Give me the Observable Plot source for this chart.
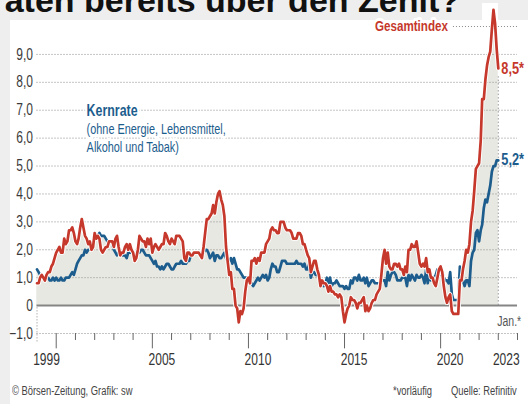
<!DOCTYPE html>
<html><head><meta charset="utf-8">
<script src="https://cdn.jsdelivr.net/npm/d3@7"></script>
<script src="https://cdn.jsdelivr.net/npm/@observablehq/plot@0.6"></script>
<style>
body{margin:0;width:528px;height:404px;background:#eeeeee;overflow:hidden;position:relative;font-family:"Liberation Sans",sans-serif;}
#panel{position:absolute;left:10px;top:20px;width:518px;height:384px;background:#fff;}
#title{position:absolute;left:0;top:0}
#peakbox{position:absolute;left:482px;top:3px;width:16px;height:17px;background:#fff}
#chart{position:absolute;left:0;top:0}
.cap{position:absolute;top:384px;font-size:12.5px;color:#444;white-space:nowrap;transform:scaleX(0.75);transform-origin:left center}
</style></head>
<body>
<div id="panel"></div>
<svg id="title" width="528" height="20"><text x="460" y="12" text-anchor="end" font-family="Liberation Sans, Arial, sans-serif" font-weight="bold" font-size="34" fill="#111">Inflationsraten bereits über den Zenit?</text></svg>
<div id="peakbox"></div>
<div id="chart"></div>
<div class="cap" style="left:12px">© Börsen-Zeitung, Grafik: sw</div>
<div class="cap" style="left:393px">*vorläufig</div>
<div class="cap" style="left:451px">Quelle: Refinitiv</div>
<script>
// Monthly year-on-year rates, Jan 1999 .. Jan 2023
const startYear = 1999;
const gesamtindex = [
0.8,0.8,1.0,1.1,1.0,0.9,1.1,1.2,1.2,1.4,1.5,1.7,
1.9,2.0,2.1,1.9,1.9,2.4,2.2,2.3,2.7,2.7,2.8,2.6,
2.3,2.2,2.4,2.8,3.1,2.8,2.5,2.4,2.2,2.3,2.0,2.1,
2.6,2.4,2.5,2.4,2.0,1.9,2.0,2.1,2.1,2.3,2.3,2.3,
2.1,2.4,2.5,2.1,1.8,1.9,1.9,2.1,2.2,2.0,2.2,2.0,
1.9,1.6,1.7,2.0,2.5,2.4,2.3,2.3,2.1,2.4,2.2,2.4,
1.9,2.1,2.2,2.1,2.0,2.1,2.2,2.2,2.6,2.5,2.3,2.2,
2.4,2.3,2.2,2.5,2.5,2.5,2.4,2.3,1.7,1.6,1.9,1.9,
1.8,1.8,1.9,1.9,1.9,1.9,1.8,1.7,2.1,2.6,3.1,3.1,
3.2,3.3,3.6,3.3,3.7,4.0,4.1,3.8,3.6,3.2,2.1,1.6,
1.1,1.2,0.6,0.6,0.0,-0.1,-0.6,-0.2,-0.3,-0.1,0.5,0.9,
1.0,0.8,1.6,1.6,1.7,1.5,1.7,1.6,1.9,1.9,1.9,2.2,
2.3,2.4,2.7,2.8,2.7,2.7,2.6,2.6,3.0,3.0,3.0,2.8,
2.7,2.7,2.7,2.6,2.4,2.4,2.4,2.6,2.6,2.5,2.2,2.2,
2.0,1.8,1.7,1.2,1.4,1.6,1.6,1.3,1.1,0.7,0.9,0.8,
0.8,0.7,0.5,0.7,0.5,0.5,0.4,0.4,0.3,0.4,0.3,-0.2,
-0.6,-0.3,-0.1,0.0,0.3,0.2,0.2,0.1,-0.1,0.1,0.1,0.2,
0.3,-0.2,0.0,-0.2,-0.1,0.1,0.2,0.2,0.4,0.5,0.6,1.1,
1.7,2.0,1.5,1.9,1.4,1.3,1.3,1.5,1.5,1.4,1.5,1.3,
1.3,1.1,1.4,1.2,2.0,2.0,2.2,2.1,2.1,2.3,1.9,1.5,
1.4,1.5,1.4,1.7,1.2,1.3,1.0,1.0,0.8,0.7,1.0,1.3,
1.4,1.2,0.7,0.3,0.1,0.3,0.4,-0.2,-0.3,-0.3,-0.3,-0.3,
0.9,0.9,1.3,1.6,2.0,1.9,2.2,3.0,3.4,4.1,4.9,5.0,
5.1,5.9,7.4,7.4,8.1,8.6,8.9,9.1,9.9,10.6,10.1,9.2,
8.5];
const kernrate = [
1.3,1.2,1.1,1.1,1.0,1.0,1.0,1.0,0.9,0.9,1.0,0.9,
1.0,0.9,0.9,1.0,0.9,0.9,1.0,1.0,1.0,1.1,1.2,1.1,
1.3,1.5,1.6,1.7,1.8,1.8,2.0,1.9,2.0,2.0,2.1,2.1,
2.6,2.5,2.5,2.6,2.5,2.5,2.5,2.4,2.3,2.3,2.3,2.2,
2.0,1.9,1.8,1.9,1.8,1.8,1.8,1.8,1.7,1.9,1.9,1.9,
1.9,1.9,1.8,1.9,1.9,2.0,2.0,1.9,1.8,1.8,1.8,1.7,
1.6,1.5,1.6,1.4,1.4,1.3,1.4,1.3,1.4,1.5,1.5,1.4,
1.3,1.3,1.4,1.5,1.5,1.5,1.6,1.5,1.5,1.5,1.6,1.6,
1.8,1.8,1.9,1.9,1.9,1.9,1.9,1.9,1.9,2.0,2.0,1.9,
1.7,1.8,1.9,1.6,1.8,1.8,1.7,1.7,1.8,1.9,1.7,1.6,
1.6,1.7,1.5,1.7,1.5,1.3,1.3,1.2,1.1,1.0,1.0,1.0,
0.9,0.8,0.8,0.7,0.8,0.9,1.0,0.9,1.0,1.1,1.0,1.1,
0.9,1.0,1.3,1.5,1.4,1.4,1.2,1.2,1.4,1.6,1.6,1.6,
1.5,1.5,1.5,1.5,1.5,1.5,1.6,1.5,1.5,1.5,1.4,1.5,
1.3,1.3,1.5,1.0,1.2,1.2,1.1,1.1,1.0,0.8,0.9,0.7,
0.8,1.0,0.7,1.0,0.7,0.8,0.8,0.9,0.8,0.7,0.7,0.7,
0.6,0.7,0.6,0.6,0.9,0.8,1.0,1.0,0.9,1.1,0.9,0.9,
1.0,0.8,1.0,0.7,0.8,0.9,0.9,0.8,0.8,0.8,0.8,0.9,
0.9,0.9,0.7,1.2,0.9,1.1,1.2,1.2,1.1,0.9,0.9,0.9,
1.0,1.0,1.0,0.7,1.1,0.9,1.1,1.0,0.9,1.1,1.0,1.0,
1.1,1.0,0.8,1.3,0.8,1.1,0.9,0.9,1.0,1.1,1.3,1.3,
1.1,1.2,1.0,0.9,0.9,0.8,1.2,0.4,0.2,0.2,0.2,0.2,
1.4,1.1,0.9,0.7,0.9,0.9,0.7,1.6,1.9,2.0,2.6,2.7,
2.3,2.7,2.9,3.5,3.8,3.7,4.0,4.3,4.8,5.0,5.0,5.2,
5.2];
const yTicks = [-1,0,1,2,3,4,5,6,7,8,9];
const yearLabels = [1999,2005,2010,2015,2020,2023];
const tickYears = d3.range(2000, 2025);
const labelGesamt = "Gesamtindex";
const labelKernHead = "Kernrate";
const labelKernSub = "(ohne Energie, Lebensmittel,\nAlkohol und Tabak)";

const RED = "#c5382b", BLUE = "#1c5d8d", FILL = "#e8e8e3";
const utc = (y, m = 0) => new Date(Date.UTC(y, m, 1));
const rows = gesamtindex.map((v, i) => ({
  date: utc(startYear + Math.floor(i / 12), i % 12), gesamt: v, kern: kernrate[i]
}));
const last = rows[rows.length - 1];
const x0 = utc(1999), x1 = utc(2024);
const fmt = d => d === 0 ? "0" : d3.format(".1f")(d).replace(".", ",");
const grid = {stroke: "#8a8a8a", strokeWidth: 1, strokeDasharray: "1,2"};

const chart = Plot.plot({
  width: 528, height: 375,
  marginTop: 26, marginLeft: 36.5, marginRight: 11, marginBottom: 42,
  x: {type: "utc", domain: [x0, x1], axis: null},
  y: {domain: [-1, 10], axis: null},
  style: {background: "transparent", overflow: "visible", fontFamily: "'Liberation Sans',sans-serif"},
  marks: [
    Plot.areaY(rows, {x: "date", y: d => Math.max(0, d.gesamt), fill: FILL}),
    Plot.areaY(rows, {x: "date", y: d => Math.max(0, d.kern), fill: FILL}),
    Plot.ruleY(yTicks.filter(d => d !== 0), {y: d => d, x1: () => x0, x2: () => x1, ...grid}),
    Plot.ruleY([10], {y: d => d, x1: () => utc(2020, 8), x2: () => x1, ...grid}),
    Plot.ruleX([x0], {x: d => d, y1: -1.3, y2: 0, ...grid}),
    Plot.ruleX([last], {x: "date", y1: 0, y2: d => d.gesamt - 0.3, stroke: "#999", strokeDasharray: "1.5,2"}),
    Plot.ruleX(tickYears, {x: d => utc(d), y1: -1, y2: d => d % 5 === 0 ? -1.55 : -1.25, stroke: "#666", strokeWidth: 1}),
    Plot.ruleY([0], {y: d => d, x1: () => x0, x2: () => x1, stroke: "#858585", strokeWidth: 2}),
    Plot.line(rows, {x: "date", y: "kern", stroke: BLUE, strokeWidth: 2.7, strokeLinejoin: "round"}),
    Plot.line(rows, {x: "date", y: "gesamt", stroke: "white", strokeWidth: 4.5, strokeLinejoin: "round"}),
    Plot.line(rows, {x: "date", y: "gesamt", stroke: RED, strokeWidth: 2.7, strokeLinejoin: "round"}),
    Plot.axisY(yTicks, {anchor: "left", tickSize: 0, tickPadding: 4, tickFormat: fmt, fontSize: 16, fill: "#3a3a3a"}),
    Plot.text(yearLabels, {x: d => utc(d, d === 2023 ? 5 : 6), y: () => -1, dy: 26, text: d => String(d), fontSize: 16, fill: "#333"}),
    Plot.text([last], {x: "date", y: "gesamt", text: d => fmt(d.gesamt) + "*", dx: 3, textAnchor: "start", fontSize: 17, fontWeight: "bold", fill: RED}),
    Plot.text([last], {x: "date", y: "kern", text: d => fmt(d.kern) + "*", dx: 3, dy: -1, textAnchor: "start", fontSize: 17, fontWeight: "bold", fill: BLUE}),
    Plot.text(["Jan.*"], {x: () => last.date, y: () => 0, dy: 16, dx: -1, text: d => d, textAnchor: "start", fontSize: 14, fill: "#555"}),
    Plot.text([labelGesamt], {x: () => utc(2016, 7), y: () => 10, dy: 0, text: d => d, textAnchor: "start", fontSize: 15.5, fontWeight: "bold", fill: RED, stroke: "white", strokeWidth: 6, paintOrder: "stroke"}),
    Plot.text([labelKernHead], {x: () => utc(2001, 7), y: () => 7, text: d => d, textAnchor: "start", fontSize: 16.5, fontWeight: "bold", fill: BLUE, stroke: "white", strokeWidth: 6, paintOrder: "stroke"}),
    Plot.text([labelKernSub], {x: () => utc(2001, 7), y: () => 7, dy: 27, text: d => d, textAnchor: "start", fontSize: 14.5, lineHeight: 1.24, fill: BLUE, stroke: "white", strokeWidth: 6, paintOrder: "stroke"}),
  ]
});
document.getElementById("chart").appendChild(chart);
// condensed look: compress every label horizontally
chart.querySelectorAll("text").forEach(t => {
  const spans = t.querySelectorAll("tspan");
  (spans.length ? [...spans] : [t]).forEach(e => {
    const L = e.getComputedTextLength();
    if (L > 0) { e.setAttribute("textLength", (L * 0.75).toFixed(1)); e.setAttribute("lengthAdjust", "spacingAndGlyphs"); }
  });
});
</script>
</body></html>
